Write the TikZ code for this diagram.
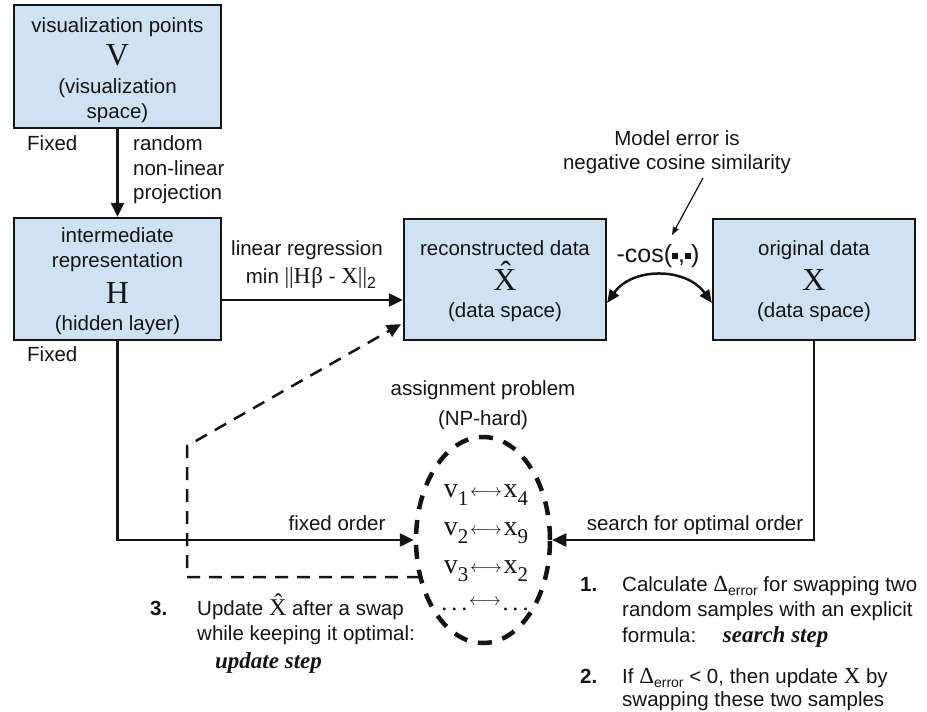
\documentclass[tikz,border=0pt]{standalone}
\usepackage{fontspec}
\setmainfont{Liberation Sans}
\newfontfamily\serf{Liberation Serif}
\usetikzlibrary{arrows.meta,shapes.geometric}
\definecolor{boxblue}{HTML}{CFE2F3}
\definecolor{ink}{HTML}{141414}
\newcommand{\sq}{\raisebox{0.22ex}{\rule{6pt}{6pt}}}
\newcommand{\vsub}[2]{{\fontsize{28}{28}\serf #1\raisebox{-8pt}{\fontsize{21}{21}\serf #2}}}
\newcommand{\darr}{\,{\fontsize{17}{17}\selectfont\raisebox{1pt}{$\longleftrightarrow$}}\,}
\begin{document}
\begin{tikzpicture}[x=1pt,y=-1pt,
  box/.style={draw=ink, line width=2.2pt, fill=boxblue, inner sep=0pt},
  txt/.style={font=\fontsize{20.5}{24}\selectfont, text=ink, inner sep=0pt, anchor=base},
  ltxt/.style={txt, anchor=base west},
  big/.style={font=\fontsize{32}{32}\serf, text=ink, inner sep=0pt, anchor=base},
  conn/.style={draw=ink, line width=2.5pt, -{Triangle[length=14pt,width=13pt]}},
  dconn/.style={draw=ink, line width=2.5pt, dash pattern=on 13pt off 9pt, -{Triangle[length=14pt,width=13pt]}},
  bi/.style={font=\fontsize{23}{24}\serf\bfseries\itshape, text=ink, inner sep=0pt, anchor=base west},
  ]
\useasboundingbox (0,0) rectangle (927,712);

% boxes
\node[box, minimum width=207pt, minimum height=123pt] (V) at (117.5,66.5) {};
\node[box, minimum width=207pt, minimum height=122pt] (H) at (117.5,279) {};
\node[box, minimum width=202pt, minimum height=121pt] (R) at (505,279.5) {};
\node[box, minimum width=202pt, minimum height=121pt] (O) at (814,279.5) {};

% box texts
\node[txt] (V1) at (117.5,32) {visualization points};
\node[big] (V2) at (117.5,65) {V};
\node[txt] (V3) at (117.5,93) {(visualization};
\node[txt] (V4) at (117.5,118) {space)};

\node[txt] (H1) at (117.5,242) {intermediate};
\node[txt] (H2) at (117.5,267) {representation};
\node[big] (H3) at (117.5,303) {H};
\node[txt] (H4) at (117.5,330) {(hidden layer)};

\node[txt] (R1) at (505,255) {reconstructed data};
\node[big] (R2) at (505,290) {\^{X}};
\node[txt] (R3) at (505,317) {(data space)};

\node[txt] (O1) at (814,255) {original data};
\node[big] (O2) at (814,290) {X};
\node[txt] (O3) at (814,317) {(data space)};

% V -> H
\draw[conn] (V.south) -- (H.north);
\node[ltxt] (fx1) at (27,150) {Fixed};
\node[ltxt] (rp1) at (133,150) {random};
\node[ltxt] (rp2) at (133,175) {non-linear};
\node[ltxt] (rp3) at (133,199) {projection};
\node[ltxt] (fx2) at (27,361) {Fixed};

% H -> R
\draw[conn] ([yshift=-21pt]H.east) -- ([yshift=-21pt]H.east -| R.west);
\node[txt] (lr1) at (307,255) {linear regression};
\node[txt] (lr2) at (311,283) {min {\fontsize{23}{24}\serf ||H\kern1ptβ} - {\fontsize{23}{24}\serf X||}\raisebox{-5pt}{\fontsize{16}{16}\selectfont 2}};

% cos arrow
\draw[draw=ink, line width=2.5pt, {Triangle[length=13pt,width=11pt]}-{Triangle[length=13pt,width=11pt]}]
  ([yshift=-23.5pt]R.east) .. controls (632,267) and (686,267) .. ([yshift=-23.5pt]O.west);
\node[txt, font=\fontsize{25}{26}\selectfont] (cosl) at (658,262) {-cos(\sq,\sq)};
\node[txt] (me1) at (677,145) {Model error is};
\node[txt] (me2) at (677,169) {negative cosine similarity};
\coordinate (mea) at (703,178);
\coordinate (meb) at (672,235);
\draw[draw=ink, line width=1.2pt, -{Triangle[length=8pt,width=6pt]}] (mea) -- (meb);

% assignment ellipse
\node[txt] (ap1) at (483,395) {assignment problem};
\node[txt] (ap2) at (483,425) {(NP-hard)};
\node[draw=ink, ellipse, line width=4.5pt, dash pattern=on 14pt off 11pt, minimum width=134pt, minimum height=206pt, inner sep=0pt] (E) at (483,540) {};

\node[anchor=base, inner sep=0pt, text=ink] (r1) at (486,497) {\vsub{v}{1}\darr\vsub{x}{4}};
\node[anchor=base, inner sep=0pt, text=ink] (r2) at (486,535) {\vsub{v}{2}\darr\vsub{x}{9}};
\node[anchor=base, inner sep=0pt, text=ink] (r3) at (486,573) {\vsub{v}{3}\darr\vsub{x}{2}};
\node[anchor=base, inner sep=0pt, text=ink] (r4) at (485,610) {{\fontsize{24}{24}\serf .\,.\,.}\,{\fontsize{17}{17}\selectfont\raisebox{5pt}{$\longleftrightarrow$}}\,{\fontsize{24}{24}\serf .\,.\,.}};

% connectors into ellipse
\draw[conn] (H.south) |- (E.west);
\node[txt] (fo) at (337,530) {fixed order};
\draw[conn] (O.south) |- (E.east);
\node[txt] (so) at (695,530) {search for optimal order};

% dashed update connector
\coordinate (ds) at (420,577);
\coordinate (dc1) at (187,577);
\coordinate (dc2) at (187,446);
\draw[dconn] (ds) -- (dc1) -- (dc2) -- ([xshift=-2pt,yshift=17pt]R.south west);

% step 3
\node[ltxt, font=\fontsize{20.5}{24}\bfseries] (n3) at (150,615) {3.};
\node[ltxt] (u1) at (197,615) {Update {\fontsize{24}{24}\serf \^{X}} after a swap};
\node[ltxt] (u2) at (197,640) {while keeping it optimal:};
\node[bi] (u3) at (215,668) {update step};

% steps 1 and 2
\node[ltxt, font=\fontsize{20.5}{24}\bfseries] (n1) at (580,591) {1.};
\node[ltxt] (s1) at (622,591) {Calculate {\fontsize{23}{24}\serf Δ}\raisebox{-4pt}{\fontsize{14}{14}\selectfont error} for swapping two};
\node[ltxt] (s2) at (622,616) {random samples with an explicit};
\node[ltxt] (s3) at (622,642) {formula:\hspace{1.3em}{\fontsize{23}{24}\serf\bfseries\itshape search step}};
\node[ltxt, font=\fontsize{20.5}{24}\bfseries] (n2) at (580,683) {2.};
\node[ltxt] (s4) at (622,683) {If {\fontsize{23}{24}\serf Δ}\raisebox{-4pt}{\fontsize{14}{14}\selectfont error} < 0, then update {\fontsize{23}{24}\serf X} by};
\node[ltxt] (s5) at (622,706) {swapping these two samples};
\end{tikzpicture}
\end{document}
